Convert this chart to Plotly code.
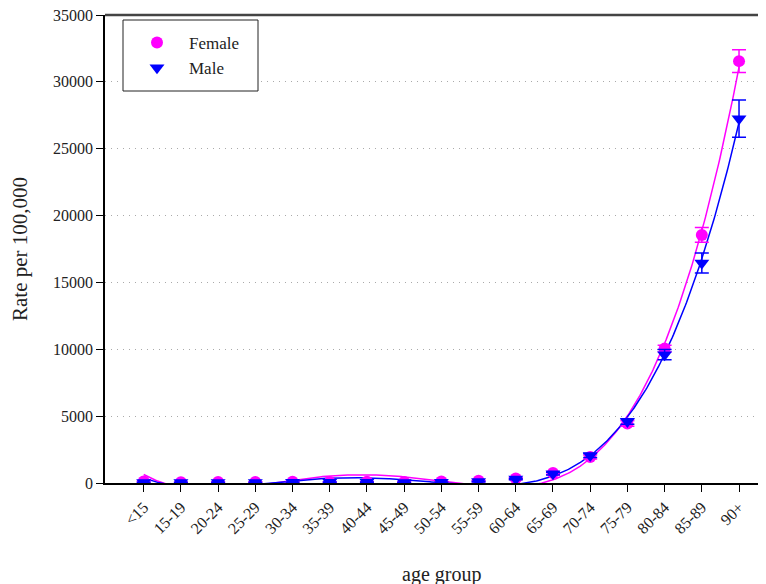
import numpy as np
import plotly.graph_objects as go

age_groups = ["<15", "15-19", "20-24", "25-29", "30-34", "35-39", "40-44", "45-49",
              "50-54", "55-59", "60-64", "65-69", "70-74", "75-79", "80-84", "85-89", "90+"]
female_rate = [120, 60, 70, 80, 90, 80, 90, 80, 110, 160, 330, 750, 1950, 4450, 10050, 18550, 31550]
female_err = [30, 20, 20, 20, 20, 20, 20, 20, 30, 40, 60, 100, 150, 200, 250, 550, 850]
male_rate = [30, 30, 40, 40, 50, 50, 50, 40, 60, 110, 290, 700, 2050, 4600, 9600, 16450, 27250]
male_err = [20, 20, 20, 20, 20, 20, 20, 20, 20, 30, 50, 100, 150, 200, 380, 750, 1400]
y_ticks = [0, 5000, 10000, 15000, 20000, 25000, 30000, 35000]

FEMALE = "#FF00FF"
MALE = "#0000FF"
FONT = "Liberation Serif"

x_idx = np.arange(len(age_groups))
x_fine = np.linspace(0, len(age_groups) - 1, 500)

def poly_curve(vals, deg=4):
    coef = np.polyfit(x_idx, np.array(vals, dtype=float), deg)
    return np.polyval(coef, x_fine)

fig = go.Figure()

fig.add_trace(go.Scatter(x=x_fine, y=poly_curve(female_rate), mode="lines",
                         line=dict(color=FEMALE, width=1.5), showlegend=False, hoverinfo="skip"))
fig.add_trace(go.Scatter(x=x_fine, y=poly_curve(male_rate), mode="lines",
                         line=dict(color=MALE, width=1.5), showlegend=False, hoverinfo="skip"))

fig.add_trace(go.Scatter(x=x_idx, y=female_rate, mode="markers", name="Female",
                         marker=dict(symbol="circle", size=12, color=FEMALE),
                         error_y=dict(type="data", array=female_err, color=FEMALE, thickness=1.5, width=7)))
fig.add_trace(go.Scatter(x=x_idx, y=male_rate, mode="markers", name="Male",
                         marker=dict(symbol="triangle-down", size=13, color=MALE),
                         error_y=dict(type="data", array=male_err, color=MALE, thickness=1.5, width=7)))

fig.update_layout(
    width=766, height=584,
    margin=dict(l=97, r=0, t=7, b=109),
    paper_bgcolor="white", plot_bgcolor="white",
    font=dict(family=FONT, size=16, color="#222"),
    legend=dict(x=(125 - 105) / 669, y=(483 - 25) / 468, xanchor="left", yanchor="top",
                bgcolor="rgba(0,0,0,0)", borderwidth=0,
                font=dict(family=FONT, size=17, color="#222"),
                itemwidth=54, tracegroupgap=4),
    showlegend=True,
)
fig.update_xaxes(
    range=[-1.04, 16.94], tickmode="array", tickvals=list(x_idx), ticktext=age_groups,
    tickangle=-45, showgrid=False, zeroline=False, showline=True, linecolor="black", linewidth=1.5,
    ticks="outside", ticklen=7, tickcolor="black", automargin=False,
    tickfont=dict(family=FONT, size=16, color="#222"),
)
fig.update_yaxes(
    range=[0, 35000], tickmode="array", tickvals=y_ticks, ticktext=[str(v) for v in y_ticks],
    showgrid=True, gridcolor="#aaaaaa", griddash="1px,5px", gridwidth=1, zeroline=False,
    showline=True, linecolor="black", linewidth=1.5, ticks="outside", ticklen=7, tickcolor="black",
    automargin=False, ticklabeloverflow="allow",
    tickfont=dict(family=FONT, size=16, color="#222"),
)
fig.add_shape(type="rect", xref="paper", yref="paper",
              x0=(123 - 105) / 669, x1=(258 - 105) / 669, y0=(483 - 91) / 468, y1=(483 - 20) / 468,
              line=dict(color="#222", width=1), fillcolor="white", layer="above")
fig.add_shape(type="line", xref="paper", yref="paper", x0=0, x1=1, y0=1, y1=1,
              line=dict(color="#444", width=2.5))
fig.add_annotation(text="age group", xref="paper", yref="paper", x=(441 - 105) / 669, y=-91 / 468,
                   xanchor="center", yanchor="middle", showarrow=False,
                   font=dict(family=FONT, size=20, color="#222"))
fig.add_annotation(text="Rate per 100,000", xref="paper", yref="paper", x=-85 / 669, y=0.5,
                   xanchor="center", yanchor="middle", showarrow=False, textangle=-90,
                   font=dict(family=FONT, size=21, color="#222"))

fig.write_html("out.html")
